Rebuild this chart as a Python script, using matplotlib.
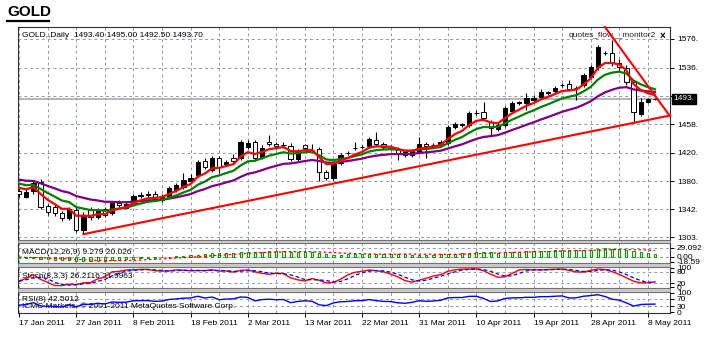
import numpy as np
import pandas as pd
import matplotlib
matplotlib.use("Agg")
import matplotlib.pyplot as plt
from matplotlib.patches import Rectangle
from matplotlib.lines import Line2D

plt.rcParams['font.family'] = ['Liberation Sans', 'DejaVu Sans']

# GOLD daily bars 17 Jan 2011 - 9 May 2011
opens = [1367, 1359, 1367, 1380, 1347, 1345, 1337, 1330, 1341, 1314,
         1343, 1332, 1343, 1337, 1351, 1344, 1351, 1361, 1362, 1363,
         1355, 1361, 1369, 1373, 1381, 1389, 1409, 1396, 1413, 1405,
         1413, 1413, 1428, 1435, 1414, 1435, 1432, 1430, 1429, 1411,
         1431, 1424, 1425, 1394, 1385, 1406, 1419, 1426, 1428, 1429,
         1437, 1432, 1427, 1425, 1421, 1417, 1421, 1432, 1430, 1431,
         1433, 1455, 1458, 1458, 1474, 1476, 1462, 1452, 1458, 1477,
         1488, 1488, 1492, 1496, 1502, 1505, 1513, 1514, 1509, 1513,
         1524, 1538, 1557, 1557, 1543, 1536, 1517, 1473, 1490, 1493.4]
highs = [1372, 1370, 1381, 1384, 1350, 1349, 1340, 1346, 1345, 1338,
         1346, 1344, 1346, 1354, 1355, 1352, 1363, 1366, 1367, 1367,
         1363, 1374, 1378, 1392, 1390, 1410, 1412, 1415, 1416, 1410,
         1418, 1437, 1438, 1438, 1430, 1444, 1435, 1434, 1433, 1425,
         1432, 1432, 1428, 1396, 1408, 1420, 1422, 1435, 1431, 1442,
         1448, 1435, 1430, 1428, 1424, 1425, 1441, 1434, 1433, 1437,
         1458, 1462, 1461, 1477, 1478, 1490, 1465, 1461, 1484, 1491,
         1491, 1502, 1499, 1507, 1505, 1512, 1515, 1520, 1512, 1530,
         1541, 1568, 1560, 1575, 1548, 1540, 1520, 1495, 1495, 1495.0]
lows = [1359, 1357, 1363, 1342, 1335, 1333, 1326, 1327, 1311, 1308,
        1328, 1329, 1331, 1334, 1345, 1342, 1349, 1358, 1359, 1356,
        1352, 1358, 1366, 1370, 1378, 1386, 1398, 1393, 1392, 1401,
        1405, 1410, 1425, 1409, 1411, 1429, 1425, 1427, 1408, 1408,
        1424, 1421, 1381, 1383, 1382, 1403, 1417, 1423, 1425, 1426,
        1429, 1425, 1424, 1410, 1414, 1414, 1418, 1413, 1428, 1428,
        1430, 1452, 1455, 1455, 1472, 1465, 1444, 1450, 1455, 1474,
        1486, 1478, 1489, 1493, 1499, 1502, 1510, 1505, 1492, 1510,
        1521, 1534, 1554, 1539, 1532, 1513, 1461, 1470, 1488, 1492.5]
closes = [1363, 1366, 1378, 1345, 1339, 1337, 1330, 1343, 1314, 1334,
          1332, 1341, 1335, 1351, 1348, 1350, 1361, 1362, 1363, 1359,
          1361, 1372, 1376, 1383, 1385, 1407, 1400, 1413, 1400, 1407,
          1409, 1435, 1433, 1413, 1427, 1432, 1429, 1431, 1411, 1421,
          1427, 1424, 1394, 1385, 1406, 1417, 1420, 1427, 1428, 1439,
          1432, 1428, 1427, 1420, 1417, 1422, 1432, 1429, 1431, 1435,
          1455, 1459, 1459, 1474, 1475, 1468, 1454, 1458, 1481, 1488,
          1489, 1495, 1495, 1503, 1503, 1509, 1513, 1507, 1509, 1527,
          1538, 1565, 1557, 1543, 1537, 1517, 1476, 1490, 1493, 1493.7]
# closes before the visible window (Dec 2010 - 14 Jan 2011), only feed the indicators
prior_closes = [1387, 1390, 1406, 1424, 1400, 1383, 1391, 1384, 1401, 1395,
                1380, 1369, 1378, 1388, 1387, 1385, 1380, 1380, 1383, 1407,
                1413, 1405, 1421, 1423, 1379, 1373, 1372, 1369, 1375, 1384,
                1386, 1387, 1360]

date_labels = ['17 Jan 2011', '27 Jan 2011', '8 Feb 2011', '18 Feb 2011',
               '2 Mar 2011', '13 Mar 2011', '22 Mar 2011', '31 Mar 2011',
               '10 Apr 2011', '19 Apr 2011', '28 Apr 2011', '8 May 2011']
price_ticks = [1303.5, 1342.4, 1380.9, 1420.1, 1458.9, 1497.6, 1536.7, 1576.2]
price_labels = ['1303.', '1342.', '1380.', '1420.', '1458.', '', '1536.', '1576.']
last_price = 1493.7

# trend lines (bar index, price)
support_x = [9, 91.1]
support_y = [1308, 1471]
resist_x = [82.0, 91.1]
resist_y = [1592.5, 1470]

# ---- indicators ----
n = len(closes)
npre = len(prior_closes)
ext = pd.Series(prior_closes + closes, dtype=float)
ma_red = ext.ewm(span=5, adjust=False).mean().values[npre:]
ma_green = ext.ewm(span=10, adjust=False).mean().values[npre:]
ma_purple = ext.ewm(span=21, adjust=False).mean().values[npre:]

macd_full = ext.ewm(span=12, adjust=False).mean() - ext.ewm(span=26, adjust=False).mean()
macd = macd_full.values[npre:]
macd_sig = macd_full.rolling(9).mean().values[npre:]

hi = pd.Series(highs, dtype=float)
lo = pd.Series(lows, dtype=float)
cl = pd.Series(closes, dtype=float)
ll = lo.rolling(8, min_periods=1).min()
hh = hi.rolling(8, min_periods=1).max()
st_main = (cl - ll).rolling(3, min_periods=1).sum() / (hh - ll).rolling(3, min_periods=1).sum() * 100
st_sig = st_main.rolling(3, min_periods=1).mean()

delta = ext.diff()
up = delta.clip(lower=0).ewm(alpha=1/8, adjust=False).mean()
dn = (-delta.clip(upper=0)).ewm(alpha=1/8, adjust=False).mean()
rsi = (100 - 100 / (1 + up / dn)).values[npre:]

# ---- figure ----
W, H = 705, 337
fig = plt.figure(figsize=(W / 100, H / 100), dpi=100)
fig.patch.set_facecolor('white')

def box(top, bot, left=18, right=670):
    return [left / W, 1 - bot / H, (right - left) / W, (bot - top) / H]

ax = fig.add_axes(box(27, 240))
ax_macd = fig.add_axes(box(243, 263))
ax_st = fig.add_axes(box(267, 288))
ax_rsi = fig.add_axes(box(292, 313))

# grey separators between panels
for t, b in [(240, 243), (263, 267), (288, 292)]:
    fig.add_artist(Rectangle((18 / W, 1 - b / H), 652 / W, (b - t) / H,
                             transform=fig.transFigure, facecolor='#c8c8c8',
                             edgecolor='#707070', lw=0.6))

grid_kw = dict(color='#8d9cab', lw=0.7, ls=(0, (3, 3)))
x = np.arange(n)
xmin, xmax = -0.15, 91.1

for a in [ax, ax_macd, ax_st, ax_rsi]:
    a.set_xlim(xmin, xmax)
    a.set_xticks(np.arange(0, 92, 8))
    a.set_xticks(np.arange(4, 92, 8), minor=True)
    a.grid(True, axis='x', which='both', **grid_kw)
    a.yaxis.tick_right()
    a.tick_params(axis='y', labelsize=6, length=3, pad=2, width=0.7)
    a.tick_params(axis='x', which='both', labelbottom=False, length=0)
    for s in a.spines.values():
        s.set_color('#303030')
        s.set_linewidth(0.8)
    a.set_axisbelow(True)

# main price panel
ax.set_ylim(1300, 1592.5)
ax.set_yticks(price_ticks)
ax.set_yticklabels(price_labels)
ax.grid(True, axis='y', **grid_kw)
ax.axhline(last_price, color='#a8a8a8', lw=1.2, zorder=1)

o = np.array(opens); c = np.array(closes)
up_bar = c >= o
ax.vlines(x, lows, highs, color='black', lw=0.8, zorder=3)
ax.bar(x, np.abs(c - o), bottom=np.minimum(o, c), width=0.6,
       color=np.where(up_bar, 'black', 'white'), edgecolor='black', lw=0.7, zorder=4)

ax.plot(x, ma_purple, color='#800080', lw=1.6, zorder=5)
ax.plot(x, ma_green, color='#008000', lw=1.6, zorder=5)
ax.plot(x, ma_red, color='#ff0000', lw=1.6, zorder=5)
ax.plot(support_x, support_y, color='#ff0000', lw=1.5, zorder=6, clip_on=False)
ax.plot(resist_x, resist_y, color='#ff0000', lw=1.5, zorder=6, clip_on=False)

ax.text(0.006, 0.962, 'GOLD,,Daily  1493.40 1495.00 1492.50 1493.70',
        transform=ax.transAxes, fontsize=6, va='center', ha='left')
ax.text(0.845, 0.958, 'quotes_flow__monitor2', transform=ax.transAxes,
        fontsize=6, va='center', ha='left', color='#202020')
ax.text(0.988, 0.958, '×', transform=ax.transAxes, fontsize=7,
        fontweight='bold', va='center', ha='center')
ax.text(1.005, (last_price - 1300) / 292.5, '1493.', transform=ax.transAxes,
        fontsize=6, color='white', va='center', ha='left', zorder=10,
        bbox=dict(boxstyle='square,pad=0.15', fc='black', ec='black'))

# MACD panel
ax_macd.set_ylim(-22, 46)
ax_macd.bar(x, macd, width=0.3, facecolor='white', edgecolor='#00a000', lw=0.8, zorder=3)
ax_macd.plot(x, macd_sig, color='#ff0000', lw=0.9, ls=(0, (2, 2)), zorder=4)
ax_macd.axhline(0, **grid_kw)
ax_macd.axhline(29.09, **grid_kw)
ax_macd.set_yticks([29.09, 0, -18.59])
ax_macd.set_yticklabels(['29.092', '0.00', '-18.59'])
ax_macd.text(0.006, 0.55, 'MACD(12,26,9) 9.279 20.026', transform=ax_macd.transAxes,
             fontsize=6, va='center')

# Stochastic panel
ax_st.set_ylim(-5, 105)
ax_st.axhline(20, **grid_kw)
ax_st.axhline(80, **grid_kw)
ax_st.plot(x, st_main, color='#ff0000', lw=1.0, zorder=4)
ax_st.plot(x, st_sig, color='#0000ff', lw=0.9, ls=(0, (3, 2)), zorder=4)
ax_st.set_yticks([100, 80, 20, 0])
ax_st.set_yticklabels(['100', '80', '20', '0'])
ax_st.text(0.006, 0.57, 'Stoch(8,3,3) 26.2116 21.9963', transform=ax_st.transAxes,
           fontsize=6, va='center')

# RSI panel
ax_rsi.set_ylim(-5, 105)
ax_rsi.axhline(30, **grid_kw)
ax_rsi.axhline(70, **grid_kw)
ax_rsi.plot(x, rsi, color='#0000ff', lw=1.0, zorder=4)
ax_rsi.set_yticks([100, 70, 30, 0])
ax_rsi.set_yticklabels(['100', '70', '30', '0'])
ax_rsi.text(0.006, 0.62, 'RSI(8) 42.5012', transform=ax_rsi.transAxes,
            fontsize=6, va='center')
ax_rsi.text(0.006, 0.33, 'ICMC Markets, © 2001-2011 MetaQuotes Software Corp.',
            transform=ax_rsi.transAxes, fontsize=6, va='center')
ax_rsi.tick_params(axis='x', which='major', labelbottom=True, length=3, width=0.7,
                   labelsize=6, pad=2)
ax_rsi.set_xticklabels(date_labels)
for lab in ax_rsi.get_xticklabels():
    lab.set_ha('left')

# title
fig.text(7 / W, 1 - 12.5 / H, 'GOLD', fontsize=11, fontweight='bold', va='center', ha='left')
fig.add_artist(Line2D([7 / W, 49 / W], [1 - 21 / H, 1 - 21 / H], color='black', lw=1.6))

fig.savefig('out.png', dpi=100)
